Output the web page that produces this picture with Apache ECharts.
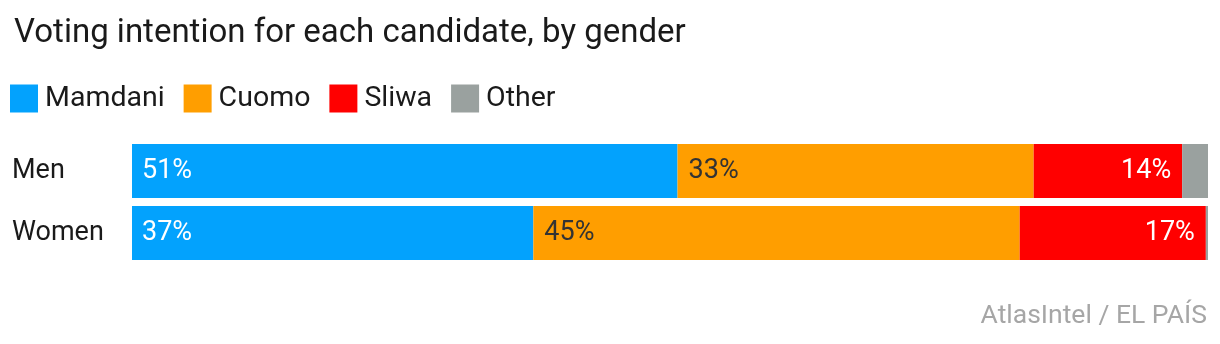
<!DOCTYPE html>
<html>
<head>
<meta charset="utf-8">
<script src="https://cdn.jsdelivr.net/npm/echarts@6/dist/echarts.min.js"></script>
<style>
  html, body { margin: 0; padding: 0; background: #fff; }
  #chart { width: 1220px; height: 344px; }
</style>
</head>
<body>
<div id="chart"></div>
<script>
// Voting intention by gender (percent of respondents)
const groups = ['Men', 'Women'];
const mamdani = [50.7, 37.3];
const cuomo = [33.1, 45.2];
const sliwa = [13.8, 17.3];
const other = [2.4, 0.2];

const seriesNames = ['Mamdani', 'Cuomo', 'Sliwa', 'Other'];
const seriesColors = ['#03a2fd', '#ff9e00', '#ff0000', '#9aa19f'];
const FONT = 'Roboto, "Noto Sans", sans-serif';

const pct = p => Math.round(p.value) + '%';

function bar(name, values, color, label) {
  return {
    name: name,
    type: 'bar',
    stack: 'total',
    data: values,
    barWidth: 54,
    itemStyle: { color: color },
    label: label,
    emphasis: { disabled: true }
  };
}

const chart = echarts.init(document.getElementById('chart'), null, { renderer: 'canvas' });
chart.setOption({
  animation: false,
  color: seriesColors,
  title: [
    {
      text: 'Voting intention for each candidate, by gender',
      left: 9,
      top: 12,
      textStyle: { fontFamily: FONT, fontSize: 33, fontWeight: 'normal', color: '#1a1a1a' }
    },
    {
      text: 'AtlasIntel / EL PAÍS',
      right: 8,
      top: 298,
      textStyle: { fontFamily: FONT, fontSize: 26.5, fontWeight: 'normal', color: '#a6a6a6' }
    }
  ],
  legend: {
    data: seriesNames,
    left: 10,
    top: 84,
    padding: 0,
    icon: 'rect',
    itemWidth: 28,
    itemHeight: 28,
    itemGap: 19,
    selectedMode: false,
    textStyle: { fontFamily: FONT, fontSize: 28.5, color: '#1a1a1a', padding: [0, 0, 0, 2] }
  },
  grid: { left: 132, right: 12, top: 140, bottom: 80, containLabel: false },
  xAxis: {
    type: 'value',
    min: 0,
    max: 100,
    show: false
  },
  yAxis: {
    type: 'category',
    data: groups,
    inverse: true,
    axisLine: { show: false },
    axisTick: { show: false },
    splitLine: { show: false },
    axisLabel: {
      align: 'left',
      margin: 120,
      fontFamily: FONT,
      fontSize: 27,
      color: '#1a1a1a'
    }
  },
  series: [
    bar('Mamdani', mamdani, seriesColors[0], {
      show: true, position: 'insideLeft', distance: 10, formatter: pct,
      fontFamily: FONT, fontSize: 27, color: '#ffffff'
    }),
    bar('Cuomo', cuomo, seriesColors[1], {
      show: true, position: 'insideLeft', distance: 11, formatter: pct,
      fontFamily: FONT, fontSize: 27, color: '#333333'
    }),
    bar('Sliwa', sliwa, seriesColors[2], {
      show: true, position: 'insideRight', distance: 11, formatter: pct,
      fontFamily: FONT, fontSize: 27, color: '#ffffff'
    }),
    bar('Other', other, seriesColors[3], { show: false })
  ]
});
</script>
</body>
</html>
